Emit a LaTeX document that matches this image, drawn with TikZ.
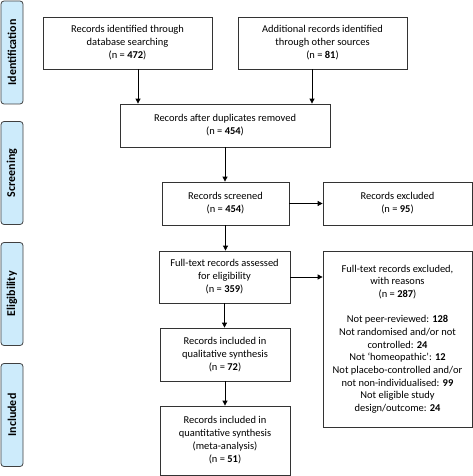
\documentclass[tikz,border=0pt]{standalone}
\usepackage{fontspec}
\setmainfont{Carlito}
\usetikzlibrary{arrows.meta}
\definecolor{phasefill}{HTML}{CDEBFB}
\definecolor{boxline}{HTML}{333333}

\begin{document}
\begin{tikzpicture}[
  x=1bp, y=1bp,
  box/.style={draw=boxline, line width=0.8pt, align=center, inner sep=2pt,
    font=\fontsize{10.5}{13}\selectfont},
  phase/.style={draw=black!75, line width=0.8pt, rounded corners=3pt, fill=phasefill,
    rotate=90, minimum width=103bp, minimum height=22bp, inner sep=0pt,
    font=\fontsize{12}{13}\selectfont\bfseries},
  arr/.style={-{Triangle[length=5pt,width=5pt]}, line width=0.8pt, draw=black}
]
\useasboundingbox (0,0) rectangle (473,476);

% --- Phases ---
\node[phase] (ident) at (12,423.5) {Identification};
\node[phase] (screen) at (12,303) {Screening};
\node[phase] (elig) at (12,182) {Eligibility};
\node[phase] (incl) at (12,61) {Included};

% --- Identification ---
\node[box, minimum width=169bp, minimum height=52bp] (db) at (127.5,433)
  {Records identified through\\database searching\\(n = \textbf{472})};
\node[box, minimum width=169bp, minimum height=52bp] (other) at (322.5,433)
  {Additional records identified\\through other sources\\(n = \textbf{81})};
\node[box, minimum width=210bp, minimum height=43bp] (dup) at (225,350.5)
  {Records after duplicates removed\\(n = \textbf{454})};

% --- Screening ---
\node[box, minimum width=127bp, minimum height=43bp] (scr) at (225.5,272.5)
  {Records screened\\(n = \textbf{454})};
\node[box, minimum width=149bp, minimum height=43bp] (exc) at (397.5,272.5)
  {Records excluded\\(n = \textbf{95})};

% --- Eligibility ---
\node[box, minimum width=131bp, minimum height=52bp] (full) at (224.5,199)
  {Full-text records assessed\\for eligibility\\(n = \textbf{359})};
\node[box, minimum width=149bp, minimum height=176bp,
  font=\fontsize{10.5}{12.7}\selectfont] (reasons) at (397.5,137)
  {Full-text records excluded,\\with reasons\\(n = \textbf{287})\\[12.7bp]
   Not peer-reviewed: \textbf{128}\\Not randomised and/or not\\controlled: \textbf{24}\\
   Not `homeopathic': \textbf{12}\\Not placebo-controlled and/or\\
   not non-individualised: \textbf{99}\\Not eligible study\\design/outcome: \textbf{24}};

% --- Included ---
\node[box, minimum width=130bp, minimum height=53bp] (qual) at (225,121.5)
  {Records included in\\qualitative synthesis\\(n = \textbf{72})};
\node[box, minimum width=130bp, minimum height=69bp] (quant) at (225,35.5)
  {Records included in\\quantitative synthesis\\(meta-analysis)\\(n = \textbf{51})};

% --- Arrows ---
\draw[arr] ([xshift=10.5bp]db.south) -- ([xshift=10.5bp]db.south |- dup.north);
\draw[arr] ([xshift=-10.5bp]other.south) -- ([xshift=-10.5bp]other.south |- dup.north);
\draw[arr] (dup.south) -- (dup.south |- scr.north);
\draw[arr] (scr.east) -- (exc.west);
\draw[arr] (scr.south) -- (scr.south |- full.north);
\draw[arr] (full.east) -- (full.east -| reasons.west);
\draw[arr] (full.south) -- (full.south |- qual.north);
\draw[arr] (qual.south) -- (quant.north);

\end{tikzpicture}
\end{document}
